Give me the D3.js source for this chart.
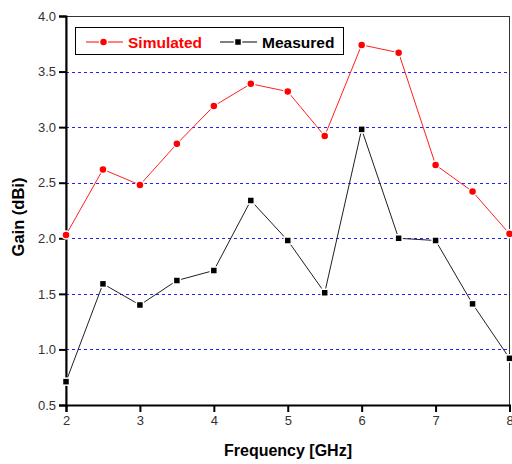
<!DOCTYPE html>
<html>
<head>
<meta charset="utf-8">
<script src="https://cdn.jsdelivr.net/npm/d3@7"></script>
<style>
  html, body { margin: 0; padding: 0; background: #fff; }
  svg { display: block; font-family: "Liberation Sans", Arial, sans-serif; }
</style>
</head>
<body>
<svg id="chart" width="512" height="464"></svg>
<script>
// Frequency points (GHz)
const frequency = [2, 2.5, 3, 3.5, 4, 4.5, 5, 5.5, 6, 6.5, 7, 7.5, 8];
// Gain (dBi)
const simulated = [2.03, 2.62, 2.48, 2.85, 3.19, 3.39, 3.32, 2.92, 3.74, 3.67, 2.66, 2.42, 2.04];
const measured  = [0.71, 1.59, 1.40, 1.62, 1.71, 2.34, 1.98, 1.51, 2.98, 2.00, 1.98, 1.41, 0.92];

const xTicks = [2, 3, 4, 5, 6, 7, 8];
const yTicks = [0.5, 1.0, 1.5, 2.0, 2.5, 3.0, 3.5, 4.0];
const gridValues = [1.0, 1.5, 2.0, 2.5, 3.0, 3.5];

const svg = d3.select("#chart");
const plotLeft = 66, plotRight = 509.5, plotTop = 16, plotBottom = 405;

const x = d3.scaleLinear().domain([2, 8]).range([plotLeft, plotRight]);
const y = d3.scaleLinear().domain([0.5, 4.0]).range([plotBottom, plotTop]);

// dotted horizontal grid
svg.append("g").selectAll("line").data(gridValues).join("line")
  .attr("x1", plotLeft).attr("x2", plotRight)
  .attr("y1", d => Math.round(y(d)) + 0.5).attr("y2", d => Math.round(y(d)) + 0.5)
  .attr("stroke", "#2020ff").attr("stroke-width", 1)
  .attr("stroke-dasharray", "3,3");

// frame (top / right)
svg.append("rect")
  .attr("x", plotLeft).attr("y", plotTop + 0.5)
  .attr("width", plotRight - plotLeft).attr("height", plotBottom - plotTop)
  .attr("fill", "none").attr("stroke", "#333").attr("stroke-width", 1);

// axes
const xAxis = d3.axisBottom(x).tickValues(xTicks).tickFormat(d3.format("d"))
  .tickSize(7).tickPadding(4);
const yAxis = d3.axisLeft(y).tickValues(yTicks).tickFormat(d3.format(".1f"))
  .tickSize(7).tickPadding(3);

const gx = svg.append("g").attr("transform", `translate(0,${plotBottom})`).call(xAxis);
const gy = svg.append("g").attr("transform", `translate(${plotLeft},0)`).call(yAxis);

[gx, gy].forEach(g => {
  g.select(".domain").attr("stroke", "#000").attr("stroke-width", 2);
  g.selectAll(".tick line").attr("stroke", "#000").attr("stroke-width", 2);
  g.selectAll(".tick text").attr("fill", "#333").attr("font-size", 13)
    .attr("font-family", "'Liberation Sans', Arial, sans-serif");
});

// series
const line = vals => d3.line()
  .x((d, i) => x(frequency[i]))
  .y(d => y(d))(vals);

svg.append("path").attr("d", line(simulated))
  .attr("fill", "none").attr("stroke", "#ff2020").attr("stroke-width", 1);
svg.append("path").attr("d", line(measured))
  .attr("fill", "none").attr("stroke", "#202020").attr("stroke-width", 1);

svg.append("g").selectAll("circle").data(simulated).join("circle")
  .attr("cx", (d, i) => x(frequency[i])).attr("cy", d => y(d))
  .attr("r", 4).attr("fill", "#ff0000")
  .attr("stroke", "#fff").attr("stroke-width", 1.5);

svg.append("g").selectAll("rect").data(measured).join("rect")
  .attr("x", (d, i) => x(frequency[i]) - 3.5).attr("y", d => y(d) - 3.5)
  .attr("width", 7).attr("height", 7).attr("fill", "#000")
  .attr("stroke", "#fff").attr("stroke-width", 1.5);

// legend
const lg = svg.append("g");
lg.append("rect").attr("x", 75.5).attr("y", 27.5).attr("width", 268).attr("height", 27)
  .attr("fill", "#fff").attr("stroke", "#000").attr("stroke-width", 1);

const legendItems = [
  { name: "Simulated", color: "#ff0000", text: "#ff0000", shape: "circle", x0: 86 },
  { name: "Measured",  color: "#000",    text: "#000",    shape: "square", x0: 220 }
];
legendItems.forEach(it => {
  const cy = 42;
  lg.append("line").attr("x1", it.x0).attr("x2", it.x0 + 37)
    .attr("y1", cy).attr("y2", cy).attr("stroke", it.color).attr("stroke-width", 1);
  if (it.shape === "circle") {
    lg.append("circle").attr("cx", it.x0 + 17.5).attr("cy", cy).attr("r", 4)
      .attr("fill", it.color).attr("stroke", "#fff").attr("stroke-width", 1.5);
  } else {
    lg.append("rect").attr("x", it.x0 + 18 - 3.5).attr("y", cy - 3.5)
      .attr("width", 7).attr("height", 7).attr("fill", it.color)
      .attr("stroke", "#fff").attr("stroke-width", 1.5);
  }
  lg.append("text").attr("x", it.x0 + 42).attr("y", cy + 5.5)
    .attr("font-size", 15.5).attr("font-weight", "bold").attr("fill", it.text)
    .text(it.name);
});

// axis titles
svg.append("text").attr("x", 288).attr("y", 456)
  .attr("text-anchor", "middle").attr("font-size", 16).attr("font-weight", "bold")
  .text("Frequency [GHz]");

svg.append("text")
  .attr("transform", `translate(24,217) rotate(-90)`)
  .attr("text-anchor", "middle").attr("font-size", 16.5).attr("font-weight", "bold")
  .text("Gain (dBi)");
</script>
</body>
</html>
